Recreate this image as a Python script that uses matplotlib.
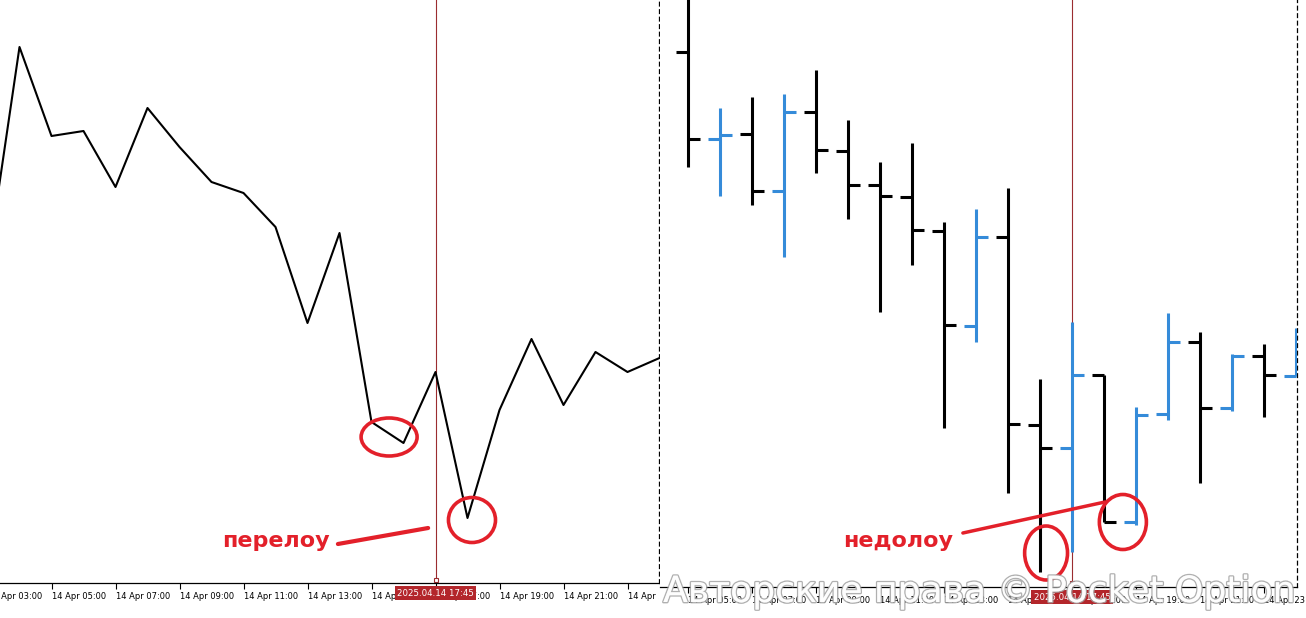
import matplotlib
matplotlib.use('Agg')
import matplotlib.pyplot as plt
from matplotlib.patches import Ellipse
from matplotlib import patheffects
from matplotlib.transforms import Bbox, TransformedBbox

# left chart: hourly line, 14 Apr 03:00 .. 15 Apr 00:00
line_hours = list(range(3, 25))
line_close = [335, 553, 464, 469, 413, 492, 453, 418, 407, 373, 277, 367,
              178, 157, 228, 82, 190, 261, 195, 248, 228, 242]

# right chart: hourly OHLC bars, 14 Apr 05:00 .. 15 Apr 00:00
bar_hours = list(range(5, 25))
bar_open = [548, 461, 466, 409, 488, 449, 415, 403, 369, 274,
            363, 175, 152, 225, 78, 186, 258, 192, 244, 224]
bar_high = [620, 492, 503, 506, 530, 480, 438, 457, 378, 391,
            412, 221, 278, 225, 193, 287, 268, 246, 256, 272]
bar_low = [433, 404, 395, 343, 427, 381, 288, 335, 172, 258,
           107, 28, 48, 78, 75, 180, 117, 189, 183, 224]
bar_close = [461, 465, 409, 488, 450, 415, 404, 370, 275, 363,
             176, 152, 225, 78, 185, 258, 192, 244, 225, 270]

tick_hours = list(range(3, 24, 2))
tick_labels = [f'14 Apr {h:02d}:00' for h in tick_hours]
cursor_hour = 17
cursor_label = '2025.04.14 17:45'

W, H = 1306, 618
RED = '#e3202a'
CURSOR = '#9b2d30'
BLUE = '#358bd9'

fig = plt.figure(figsize=(W / 100, H / 100), dpi=100)


def add_panel(x0, x1, y_bottom, first_hour_px):
    # panel placed in pixels, 32 px per hour
    ax = fig.add_axes([x0 / W, (H - y_bottom) / H, (x1 - x0) / W, y_bottom / H])
    for side in ['left', 'top']:
        ax.spines[side].set_visible(False)
    ax.spines['right'].set_linestyle((0, (3, 3)))
    ax.spines['right'].set_linewidth(0.9)
    ax.spines['bottom'].set_linewidth(0.9)
    ax.set_yticks([])
    ax.set_xticks(tick_hours, tick_labels)
    # limits after the ticks, otherwise set_xticks widens the view
    ax.set_xlim(5 + (x0 - first_hour_px) / 32, 5 + (x1 - first_hour_px) / 32)
    ax.set_ylim(600 - y_bottom, 600)
    ax.tick_params(axis='x', direction='out', length=4, width=0.8, pad=2.5,
                   labelsize=6)
    plt.setp(ax.get_xticklabels(), ha='left')
    ax.axvline(cursor_hour, color=CURSOR, lw=0.8, zorder=1)
    ax.plot(cursor_hour, 0.006, marker='s', ms=3.2, mfc='white', mec=CURSOR,
            mew=0.8, transform=ax.get_xaxis_transform(), clip_on=False)
    ax.text(cursor_hour, -10 / y_bottom, cursor_label, transform=ax.get_xaxis_transform(),
            ha='center', va='center', color='white', fontsize=6.2, clip_on=False,
            zorder=5, bbox=dict(boxstyle='square,pad=0.25', fc='#b3262b', ec='none'))
    return ax


# ---- left: line chart
ax1 = add_panel(-20, 659, 583, 51.5)
ax1.plot(line_hours, line_close, color='black', lw=1.5, zorder=3)
clip = TransformedBbox(Bbox([[0, 0], [659 / W, 1]]), fig.transFigure)
for lbl in ax1.get_xticklabels():
    lbl.set_clip_box(clip)
    lbl.set_clip_on(True)

ax1.add_patch(Ellipse((15.55, 163), 1.75, 38, fill=False, ec=RED, lw=2.6, zorder=4))
ax1.add_patch(Ellipse((18.14, 80), 1.47, 45, fill=False, ec=RED, lw=2.6, zorder=4))
ax1.plot([13.95, 16.77], [56, 72], color=RED, lw=3, solid_capstyle='round', zorder=4)
ax1.text(10.33, 53, 'перелоу', color=RED, fontsize=16, fontweight='bold',
         ha='left', va='baseline', zorder=4)

# ---- right: OHLC bars
ax2 = add_panel(660, 1297, 587, 688)
colors = [BLUE if c > o else 'black' for o, c in zip(bar_open, bar_close)]
half = 0.375
ax2.vlines(bar_hours, bar_low, bar_high, colors=colors, lw=2.2, zorder=3)
ax2.hlines(bar_open, [h - half for h in bar_hours], bar_hours, colors=colors, lw=2.2, zorder=3)
ax2.hlines(bar_close, bar_hours, [h + half for h in bar_hours], colors=colors, lw=2.2, zorder=3)

ax2.add_patch(Ellipse((16.19, 47), 1.34, 54, fill=False, ec=RED, lw=2.6, zorder=4))
ax2.add_patch(Ellipse((18.59, 78), 1.47, 55, fill=False, ec=RED, lw=2.6, zorder=4))
ax2.plot([13.59, 18.03], [67, 98], color=RED, lw=2.5, solid_capstyle='round', zorder=4)
ax2.text(9.84, 53, 'недолоу', color=RED, fontsize=16, fontweight='bold',
         ha='left', va='baseline', zorder=4)

# watermark
fig.text(979 / W, 1 - 592 / H, 'Авторские права © Pocket Option', fontsize=26,
         color='white', alpha=0.85, ha='center', va='center', zorder=10,
         path_effects=[patheffects.withStroke(linewidth=2, foreground='#a3a3a3'),
                       patheffects.Normal()])

fig.savefig('out.png', dpi=100)
